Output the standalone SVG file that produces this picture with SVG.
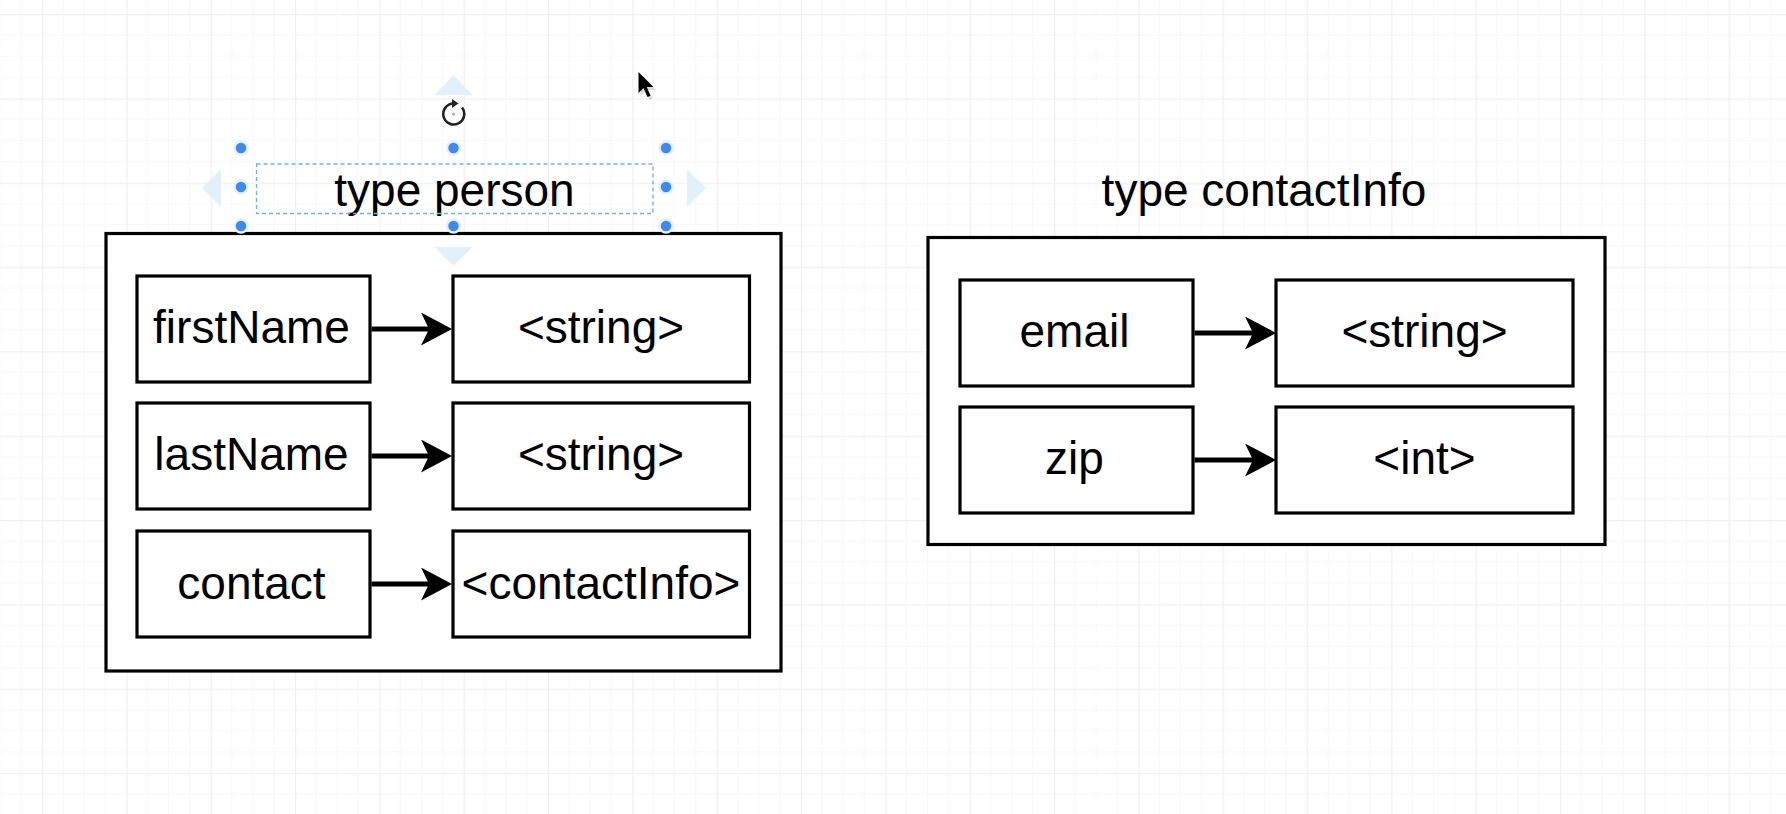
<svg xmlns="http://www.w3.org/2000/svg" width="1786" height="814" viewBox="0 0 1786 814">
  <defs>
    <pattern id="grid" x="42" y="14" width="84.33" height="84.33" patternUnits="userSpaceOnUse">
      <path d="M21.08 0V84.33M42.17 0V84.33M63.25 0V84.33M0 21.08H84.33M0 42.17H84.33M0 63.25H84.33" stroke="#f8f8f8" stroke-width="1.2" fill="none"/>
      <path d="M0.6 0V84.33M0 0.6H84.33" stroke="#f0f0f0" stroke-width="1.4" fill="none"/>
    </pattern>
    <marker id="arrow" markerUnits="userSpaceOnUse" markerWidth="32" markerHeight="34" refX="19" refY="16.5" orient="auto" viewBox="0 0 32 34">
      <path d="M0,0 L31,16.5 L0,33 L8,16.5 Z" fill="#000"/>
    </marker>
  </defs>
  <style>
    .box { fill: #fff; stroke: #000; stroke-width: 3.2; }
    .outer { fill: #fff; stroke: #000; stroke-width: 3.2; }
    .lbl { font-family: "Liberation Sans", Arial, Helvetica, sans-serif; font-size: 46px; fill: #000; text-anchor: middle; }
    .conn { stroke: #000; stroke-width: 5; fill: none; marker-end: url(#arrow); }
    .handle { fill: #3f8ae9; stroke: #e6effb; stroke-width: 2.5; }
    .hover { fill: #e2f0fb; }
  </style>
  <rect width="1786" height="814" fill="#fff"/>
  <rect width="1786" height="814" fill="url(#grid)"/>

  <g id="person">
    <rect class="outer" x="106" y="233.5" width="675" height="437.5"/>
    <text class="lbl" x="454.5" y="206">type person</text>
  </g>
  <g id="person-firstName"><rect class="box" x="137" y="276" width="233" height="106"/><text class="lbl" x="251.5" y="343">firstName</text></g>
  <g id="person-firstName-type"><rect class="box" x="453" y="276" width="296.5" height="106"/><text class="lbl" x="601" y="343">&lt;string&gt;</text></g>
  <g id="person-lastName"><rect class="box" x="137" y="403" width="233" height="106"/><text class="lbl" x="251.5" y="470">lastName</text></g>
  <g id="person-lastName-type"><rect class="box" x="453" y="403" width="296.5" height="106"/><text class="lbl" x="601" y="470">&lt;string&gt;</text></g>
  <g id="person-contact"><rect class="box" x="137" y="531" width="233" height="106"/><text class="lbl" x="251.5" y="599">contact</text></g>
  <g id="person-contact-type"><rect class="box" x="453" y="531" width="296.5" height="106"/><text class="lbl" x="601" y="599">&lt;contactInfo&gt;</text></g>

  <g id="contactInfo">
    <rect class="outer" x="928" y="237.5" width="677" height="307"/>
    <text class="lbl" x="1264" y="206">type contactInfo</text>
  </g>
  <g id="contactInfo-email"><rect class="box" x="960" y="280" width="233" height="106"/><text class="lbl" x="1074.5" y="347">email</text></g>
  <g id="contactInfo-email-type"><rect class="box" x="1276" y="280" width="297" height="106"/><text class="lbl" x="1424.5" y="347">&lt;string&gt;</text></g>
  <g id="contactInfo-zip"><rect class="box" x="960" y="407" width="233" height="106"/><text class="lbl" x="1074.5" y="474">zip</text></g>
  <g id="contactInfo-zip-type"><rect class="box" x="1276" y="407" width="297" height="106"/><text class="lbl" x="1424.5" y="474">&lt;int&gt;</text></g>

  <g id="connectors">
    <path class="conn" d="M371.5,329 H440"/>
    <path class="conn" d="M371.5,456 H440"/>
    <path class="conn" d="M371.5,584 H440"/>
    <path class="conn" d="M1194.5,333 H1264"/>
    <path class="conn" d="M1194.5,460 H1264"/>
  </g>

  <g id="selection">
    <polygon class="hover" points="453.5,75 472.5,95 434.5,95"/>
    <polygon class="hover" points="434.5,247 472.5,247 453.5,266"/>
    <polygon class="hover" points="202,188 221,169 221,207"/>
    <polygon class="hover" points="706,188 687,169 687,207"/>
    <rect x="256.5" y="164" width="396.5" height="49.5" fill="none" stroke="#6db3ea" stroke-width="1.3" stroke-dasharray="4 3"/>
    <circle class="handle" cx="241" cy="148" r="6.5"/>
    <circle class="handle" cx="453.5" cy="148" r="6.5"/>
    <circle class="handle" cx="666" cy="148" r="6.5"/>
    <circle class="handle" cx="241" cy="187" r="6.5"/>
    <circle class="handle" cx="666" cy="187" r="6.5"/>
    <circle class="handle" cx="241" cy="226" r="6.5"/>
    <circle class="handle" cx="453.5" cy="226" r="6.5"/>
    <circle class="handle" cx="666" cy="226" r="6.5"/>
    <path d="M462,107.5 A10.5,10.5 0 1 1 453.5,103.5" fill="none" stroke="#222" stroke-width="2.6"/>
    <path d="M452,99 L458.5,103.5 L452,108 Z" fill="#222"/>
    <circle cx="453.5" cy="114" r="1.5" fill="#aaa"/>
  </g>

  <g id="cursor">
    <polygon points="639.5,73.5 639.5,94.5 644.5,89.5 648.5,98.5 651.5,97.3 647.7,88.5 654.5,88.5" fill="#000" opacity="0.15" transform="translate(1,1.5)"/>
    <polygon points="638.5,72 638.5,93 643.5,88 647.5,97 650.5,95.8 646.7,87 653.5,87" fill="#000"/>
  </g>
</svg>
